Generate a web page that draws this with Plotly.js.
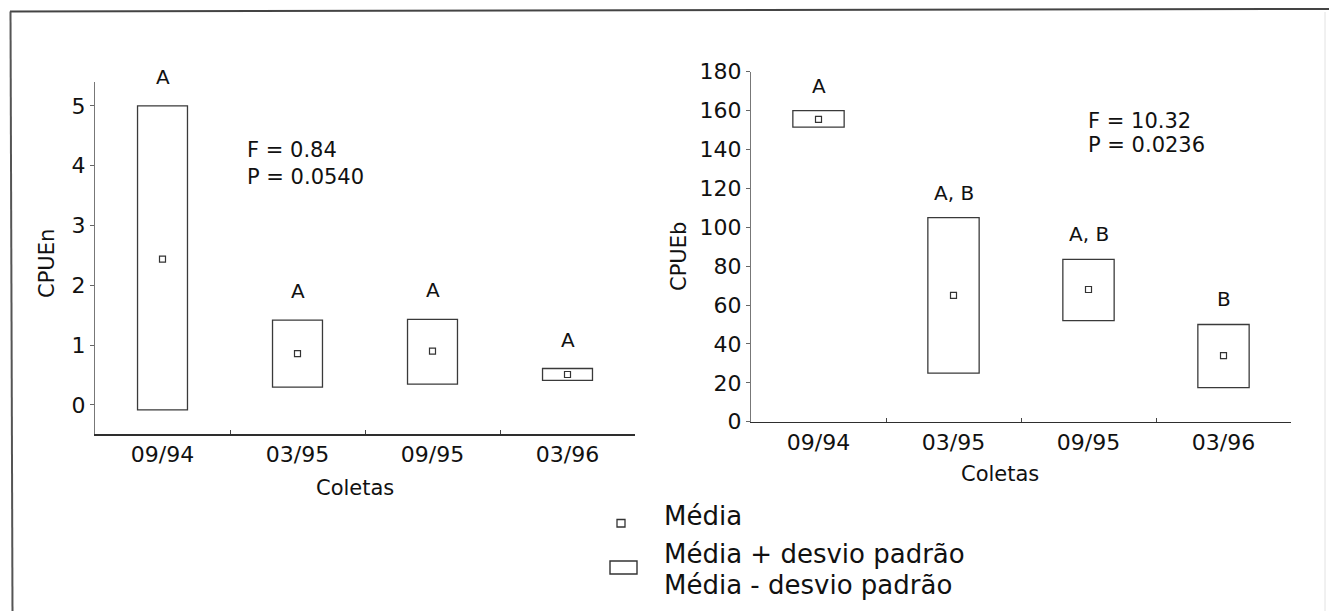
<!DOCTYPE html>
<html>
<head>
<meta charset="utf-8">
<script src="https://cdn.plot.ly/plotly-3.0.1.min.js"></script>
<style>html,body{margin:0;padding:0;background:#fff;}#chart{width:1329px;height:611px;}</style>
</head>
<body>
<div id="chart"></div>
<script>
// ---- data ----
const coletas = ['09/94', '03/95', '09/95', '03/96'];

// CPUEn (left panel)
const cpueN_mean  = [2.44, 0.86, 0.90, 0.51];
const cpueN_upper = [5.00, 1.42, 1.43, 0.61];   // média + desvio padrão
const cpueN_lower = [-0.08, 0.30, 0.35, 0.41];  // média - desvio padrão
const cpueN_letters = ['A', 'A', 'A', 'A'];
const cpueN_stats = ['F = 0.84', 'P = 0.0540'];

// CPUEb (right panel)
const cpueB_mean  = [155.5, 65, 68, 34];
const cpueB_upper = [160, 105, 83.5, 50];
const cpueB_lower = [151.5, 25, 52, 17.5];
const cpueB_letters = ['A', 'A, B', 'A, B', 'B'];
const cpueB_stats = ['F = 10.32', 'P = 0.0236'];

const xTitle = 'Coletas';
const yTitleN = 'CPUEn';
const yTitleB = 'CPUEb';
const legendLabels = ['Média', 'Média + desvio padrão', 'Média - desvio padrão'];

// ---- layout helpers ----
const W = 1329, H = 611;
const px = v => v / W;
const py = v => 1 - v / H;
const FONT = 'DejaVu Sans, Arial, sans-serif';
const TXT = '#111111';

function rangeTrace(upper, lower, xa, ya, w) {
  return {
    type: 'bar', x: coletas,
    y: upper.map((u, i) => u - lower[i]),
    base: lower, width: w,
    marker: {color: 'rgba(0,0,0,0)', line: {color: '#3a3a3a', width: 1.3}},
    xaxis: xa, yaxis: ya, showlegend: false, hoverinfo: 'skip'
  };
}
function meanTrace(mean, xa, ya) {
  return {
    type: 'scatter', mode: 'markers', x: coletas, y: mean,
    marker: {symbol: 'square-open', size: 6, color: '#333', line: {width: 1.2}},
    xaxis: xa, yaxis: ya, showlegend: false, hoverinfo: 'skip'
  };
}

const data = [
  rangeTrace(cpueN_upper, cpueN_lower, 'x', 'y', 0.37),
  meanTrace(cpueN_mean, 'x', 'y'),
  rangeTrace(cpueB_upper, cpueB_lower, 'x2', 'y2', 0.38),
  meanTrace(cpueB_mean, 'x2', 'y2')
];

const tickFont = {family: FONT, size: 22, color: TXT};
function xAxis(d0, d1, anchor) {
  return {
    domain: [px(d0), px(d1)], anchor: anchor, type: 'category',
    range: [-0.5, 3.5], showline: true, linecolor: '#2e2e2e', linewidth: 1.6,
    ticks: 'inside', ticklen: 4, tickcolor: '#444', tickson: 'boundaries',
    tickfont: tickFont, ticklabelstandoff: 0,
    showgrid: false, zeroline: false, fixedrange: true
  };
}
function yAxis(d0, d1, anchor, range, dtick) {
  return {
    domain: [py(d0), py(d1)], anchor: anchor, range: range,
    tick0: 0, dtick: dtick, showline: true, linecolor: '#777', linewidth: 1,
    ticks: 'outside', ticklen: 4, tickcolor: '#666',
    tickfont: tickFont, showgrid: false, zeroline: false, fixedrange: true
  };
}

const annotations = [];
function letters(labels, upper, xa, ya, shift) {
  labels.forEach((t, i) => annotations.push({
    xref: xa, yref: ya, x: coletas[i], y: upper[i], text: t, showarrow: false,
    yanchor: 'middle', yshift: shift, font: {family: FONT, size: 20, color: TXT}
  }));
}
letters(cpueN_letters, cpueN_upper, 'x', 'y', 29);
letters(cpueB_letters, cpueB_upper, 'x2', 'y2', 25);

function txt(text, x, y, size, opts) {
  annotations.push(Object.assign({
    xref: 'paper', yref: 'paper', x: px(x), y: py(y), text: text, showarrow: false,
    xanchor: 'left', yanchor: 'middle', font: {family: FONT, size: size, color: TXT}
  }, opts || {}));
}
// stats
txt(cpueN_stats[0], 245, 150, 21);
txt(cpueN_stats[1], 245, 177, 21);
txt(cpueB_stats[0], 1086, 121, 21);
txt(cpueB_stats[1], 1086, 145, 21);
// axis titles
txt(xTitle, 355, 488, 21, {xanchor: 'center'});
txt(xTitle, 1000, 474, 21, {xanchor: 'center'});
txt(yTitleN, 47, 264, 21, {xanchor: 'center', textangle: -90});
txt(yTitleB, 679, 256, 21, {xanchor: 'center', textangle: -90});
// legend texts
txt(legendLabels[0], 662, 516, 26);
txt(legendLabels[1], 662, 554, 26);
txt(legendLabels[2], 662, 585, 26);

const shapes = [
  // scanned page frame
  {type: 'line', xref: 'paper', yref: 'paper', x0: px(10), y0: py(11.5), x1: px(1329), y1: py(9), line: {color: '#444', width: 2}},
  {type: 'line', xref: 'paper', yref: 'paper', x0: px(10.5), y0: py(11.5), x1: px(12.5), y1: py(611), line: {color: '#555', width: 2}},
  {type: 'line', xref: 'paper', yref: 'paper', x0: px(1325), y0: py(12), x1: px(1325), y1: py(611), line: {color: '#e2e2e2', width: 1}},
  // legend icons
  {type: 'rect', xref: 'paper', yref: 'paper', x0: px(617), x1: px(625), y0: py(527), y1: py(519.5), line: {color: '#333', width: 1.3}},
  {type: 'rect', xref: 'paper', yref: 'paper', x0: px(610), x1: px(637), y0: py(574), y1: py(561), line: {color: '#333', width: 1.4}}
];

const layout = {
  width: W, height: H, margin: {l: 0, r: 0, t: 0, b: 0},
  paper_bgcolor: '#ffffff', plot_bgcolor: 'rgba(0,0,0,0)',
  font: {family: FONT, color: TXT},
  showlegend: false, bargap: 0,
  xaxis: xAxis(95, 635, 'y'),
  yaxis: yAxis(434, 82, 'x', [-0.485, 5.4], 1),
  xaxis2: xAxis(751, 1291, 'y2'),
  yaxis2: yAxis(421.7, 71.7, 'x2', [0, 180], 20),
  annotations: annotations,
  shapes: shapes
};

Plotly.newPlot('chart', data, layout, {displayModeBar: false, staticPlot: true});
</script>
</body>
</html>
